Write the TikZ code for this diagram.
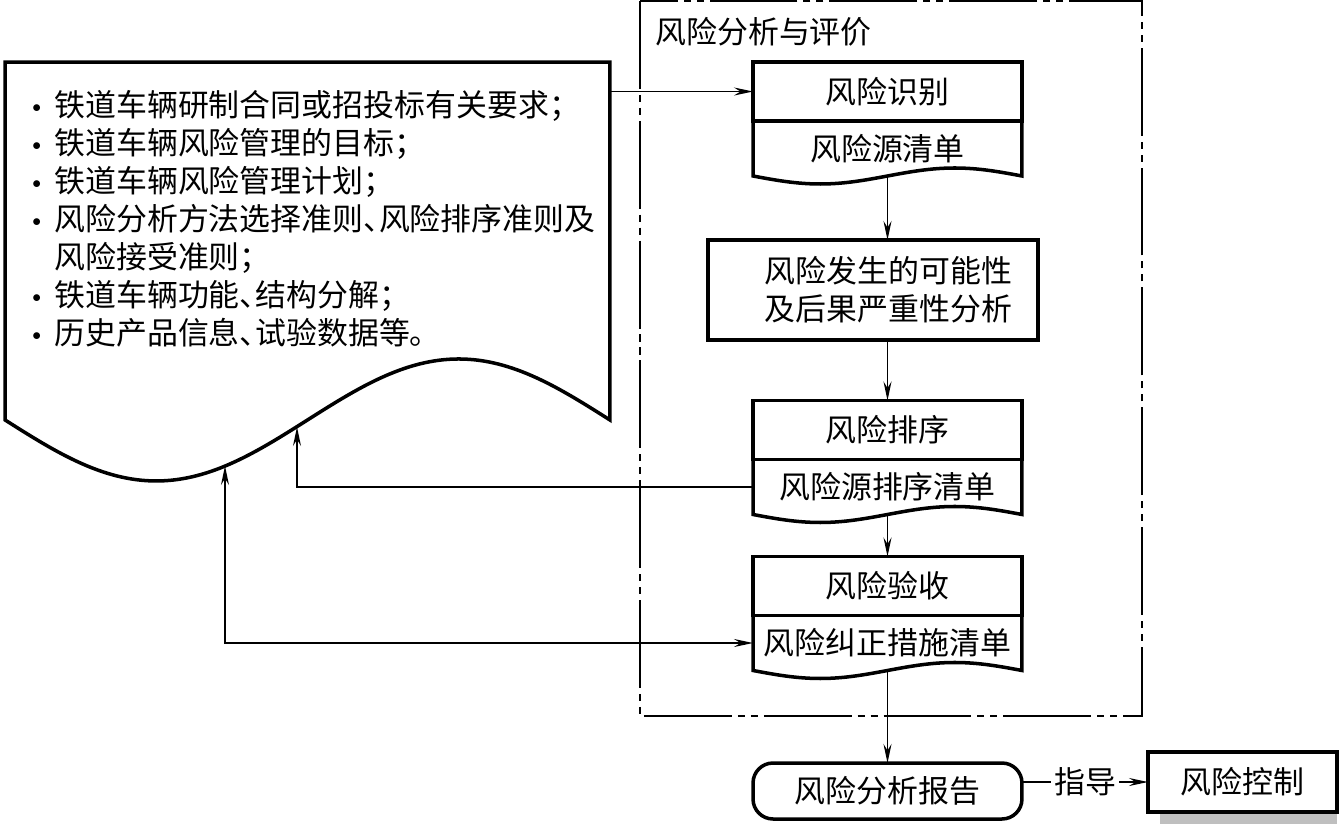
\documentclass[tikz,border=0pt]{standalone}
\usepackage{fontspec}
\setmainfont{Noto Sans CJK SC}
\usetikzlibrary{arrows.meta,positioning,calc}
\tikzset{
  boxline/.style={line width=2pt},
  thinline/.style={line width=0.8pt},
  arr/.style={thinline, -{Stealth[length=0.38cm,width=0.16cm,inset=0.13cm]}},
  biarr/.style={thinline, {Stealth[length=0.38cm,width=0.16cm,inset=0.13cm]}-{Stealth[length=0.38cm,width=0.16cm,inset=0.13cm]}},
  frameline/.style={line width=0.8pt, dash pattern=on 50pt off 3.4pt on 4pt off 3.4pt on 4pt off 3.4pt},
  headbox/.style={draw, boxline, fill=white, minimum width=5.38cm, minimum height=1.18cm, inner sep=0, outer sep=0},
  listpart/.style={minimum width=5.38cm, minimum height=1.1cm, inner sep=0, outer sep=0},
  procbox/.style={draw, boxline, fill=white, text width=5.56cm, align=right, inner xsep=0.52cm, inner ysep=0, minimum height=2cm, outer sep=0},
  reportbox/.style={draw, boxline, rounded corners=0.4cm, minimum width=5.38cm, minimum height=1.12cm, inner sep=0, outer sep=0},
  ctrlbox/.style={draw, boxline, fill=white, minimum width=3.78cm, minimum height=1.2cm, inner sep=0, outer sep=0},
}
% bordo ondulato sotto un elenco
\newcommand\listedge[1]{\draw[boxline] (#1.north west) -- (#1.south west)
  sin ($(#1.south west)!0.25!(#1.south east)+(0,8)$) cos (#1.south)
  sin ($(#1.south west)!0.75!(#1.south east)+(0,-8)$) cos (#1.south east) -- (#1.north east);}
\newcommand\dun{\makebox[0.5em][l]{、}}
\newcommand\bul{\makebox[0.44cm][l]{\raisebox{2.5pt}{\fontsize{10}{10}\selectfont$\bullet$}}}
\begin{document}
\begin{tikzpicture}[x=0.02cm, y=-0.02cm, font=\fontsize{17.6}{21.6}\selectfont]
\useasboundingbox (0,0) rectangle (1340,823);
% riquadro analisi
\draw[frameline] (640,1) rectangle (1142,716);
\node[anchor=west, inner sep=0] (ratitle) at (655,32) {风险分析与评价};
% documento di ingresso
\node[minimum width=12.1cm, minimum height=7.16cm, inner sep=0, outer sep=0] (doc) at (307.5,241) {};
\draw[boxline, fill=white] (doc.south west) -- (doc.north west) -- (doc.north east) -- (doc.south east)
  sin ($(doc.south)!0.5!(doc.south east)+(0,-61)$) cos (doc.south)
  sin ($(doc.south)!0.5!(doc.south west)+(0,61)$) cos (doc.south west) -- cycle;
\node[anchor=west, inner sep=0, align=left] (reqs) at (32,219) {\bul 铁道车辆研制合同或招投标有关要求；\\
  \bul 铁道车辆风险管理的目标；\\
  \bul 铁道车辆风险管理计划；\\
  \bul 风险分析方法选择准则\dun{}风险排序准则及\\
  \hspace*{0.44cm}风险接受准则；\\
  \bul 铁道车辆功能\dun{}结构分解；\\
  \bul 历史产品信息\dun{}试验数据等。};
\coordinate (fbrank) at (297,427);
\coordinate (fbacc) at (225,466);
% blocchi
\node[headbox] (idn) at (887.5,91.5) {风险识别};
\node[listpart, below=0pt of idn] (idsrc) {风险源清单};
\listedge{idsrc}
\node[procbox] (prob) at (873,290) {风险发生的可能性\\及后果严重性分析};
\node[headbox] (rank) at (887.5,430) {风险排序};
\node[listpart, below=0pt of rank] (rsrc) {风险源排序清单};
\listedge{rsrc}
\node[headbox] (val) at (887.5,586) {风险验收};
\node[listpart, below=0pt of val] (csrc) {风险纠正措施清单};
\listedge{csrc}
\node[reportbox] (report) at (887.5,791) {风险分析报告};
\node[ctrlbox] (ctrl) at (1242.5,782) {风险控制};
\fill[black!25] ($(ctrl.south west)+(12,2)$) rectangle ($(ctrl.south east)+(0,14)$);
% frecce
\draw[arr] (doc.east |- idn.west) -- (idn.west);
\draw[arr] (idsrc.south) -- (idsrc.south |- prob.north);
\draw[arr] (rank.north |- prob.south) -- (rank.north);
\draw[arr] (rsrc.south) -- (val.north);
\draw[arr] (csrc.south) -- (report.north);
\draw[arr] (report.east |- ctrl.west) -- node[fill=white, inner sep=2pt] (guide) {指导} (ctrl.west);
\draw[arr] (rsrc.west) -| (fbrank);
\draw[biarr] (fbacc) |- (csrc.west);
\end{tikzpicture}
\end{document}
